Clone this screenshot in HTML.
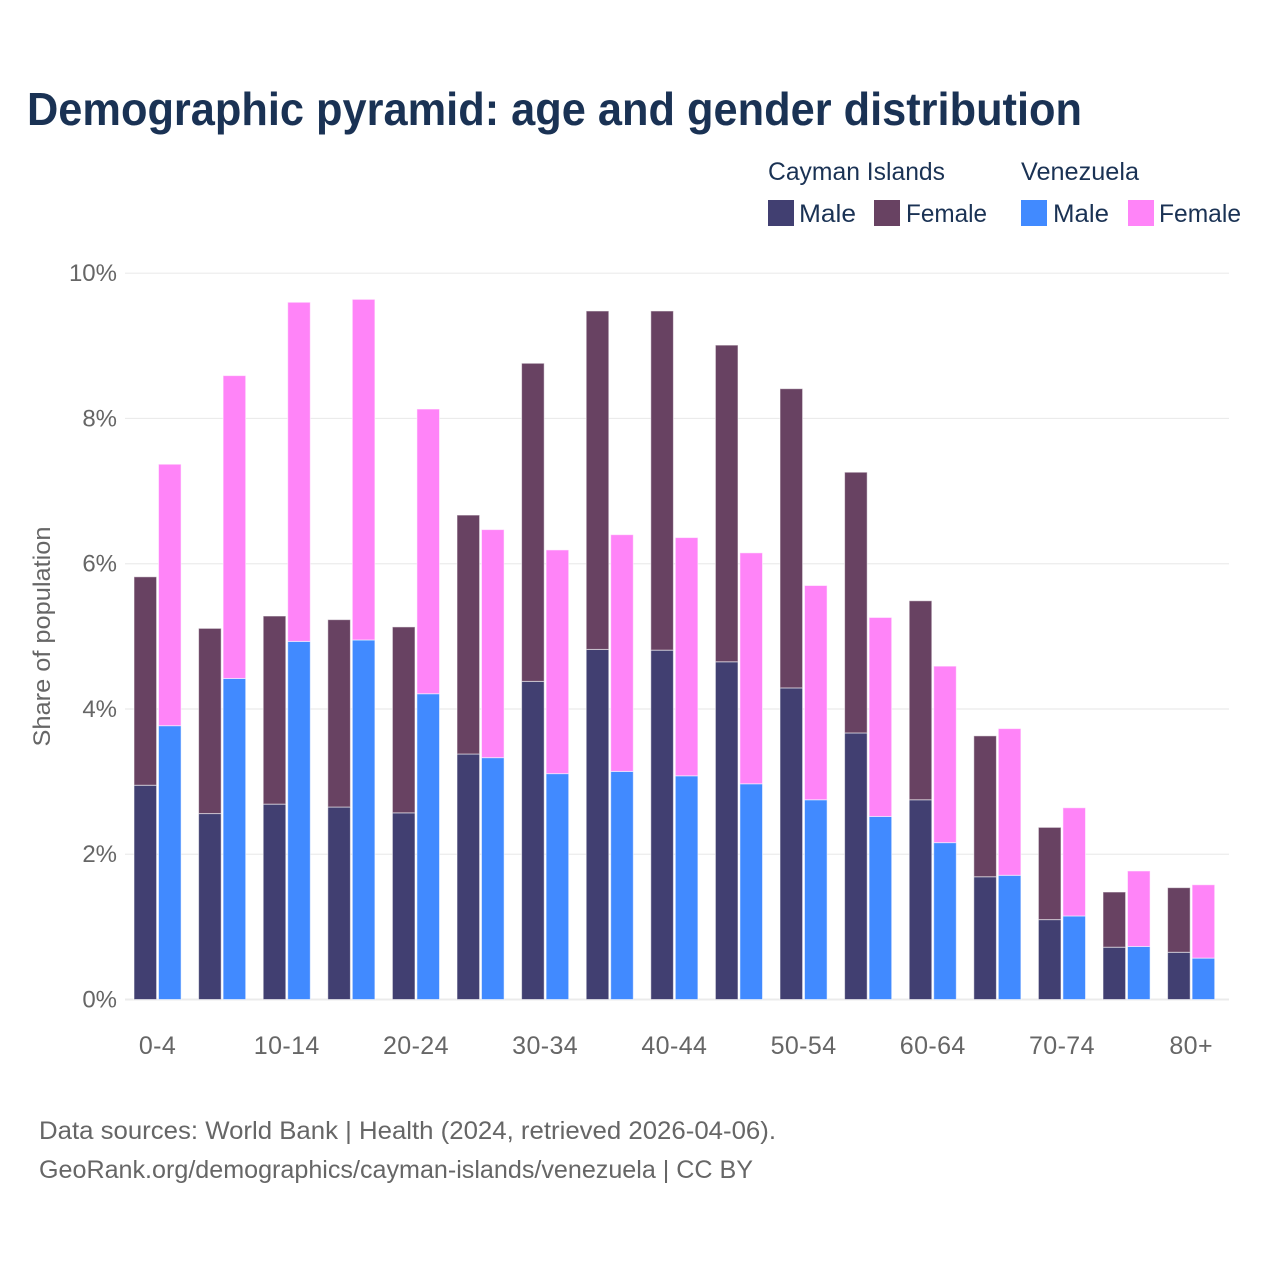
<!DOCTYPE html>
<html lang="en">
<head>
<meta charset="utf-8">
<title>Demographic pyramid</title>
<style>
html,body{margin:0;padding:0;background:#fff;}
svg{display:block;}
text{font-family:"Liberation Sans",sans-serif;}
</style>
</head>
<body>
<svg id="chart" xmlns="http://www.w3.org/2000/svg" width="1280" height="1280" viewBox="0 0 1280 1280">
  <rect width="1280" height="1280" fill="#fff"/>
  <text x="27" y="125" font-size="46" font-weight="700" fill="#1a3254" textLength="1055" lengthAdjust="spacingAndGlyphs">Demographic pyramid: age and gender distribution</text>

  <g font-size="25" fill="#1a3254">
    <text x="768" y="180" textLength="177" lengthAdjust="spacingAndGlyphs">Cayman Islands</text>
    <text x="1021" y="180" textLength="118" lengthAdjust="spacingAndGlyphs">Venezuela</text>
    <rect x="768" y="200" width="26" height="26" fill="#413f71"/>
    <text x="799" y="222" textLength="57" lengthAdjust="spacingAndGlyphs">Male</text>
    <rect x="874" y="200" width="26" height="26" fill="#684262"/>
    <text x="906" y="222" textLength="81" lengthAdjust="spacingAndGlyphs">Female</text>
    <rect x="1021" y="200" width="26" height="26" fill="#418aff"/>
    <text x="1053" y="222" textLength="56" lengthAdjust="spacingAndGlyphs">Male</text>
    <rect x="1128" y="200" width="26" height="26" fill="#ff84f8"/>
    <text x="1159" y="222" textLength="82" lengthAdjust="spacingAndGlyphs">Female</text>
  </g>

  <g id="grid"></g>
  <g id="bars"></g>
  <g id="yticks"></g>
  <g id="xticks"></g>

  <text transform="translate(50,636.5) rotate(-90)" text-anchor="middle" font-size="24" fill="#666" textLength="220" lengthAdjust="spacingAndGlyphs">Share of population</text>

  <text x="39" y="1139" font-size="25" fill="#666" textLength="737" lengthAdjust="spacingAndGlyphs">Data sources: World Bank | Health (2024, retrieved 2026-04-06).</text>
  <text x="39" y="1178" font-size="25" fill="#666" textLength="714" lengthAdjust="spacingAndGlyphs">GeoRank.org/demographics/cayman-islands/venezuela | CC BY</text>
</svg>
<script>
const ageGroups = ["0-4","5-9","10-14","15-19","20-24","25-29","30-34","35-39","40-44","45-49","50-54","55-59","60-64","65-69","70-74","75-79","80+"];
const caymanMale = [2.95,2.56,2.69,2.65,2.57,3.38,4.38,4.82,4.81,4.65,4.29,3.67,2.75,1.69,1.10,0.72,0.65];
const caymanFemale = [2.87,2.55,2.59,2.58,2.56,3.29,4.38,4.66,4.67,4.36,4.12,3.59,2.74,1.94,1.27,0.76,0.89];
const venezuelaMale = [3.77,4.42,4.93,4.95,4.21,3.33,3.11,3.14,3.08,2.97,2.75,2.52,2.16,1.71,1.15,0.73,0.57];
const venezuelaFemale = [3.60,4.17,4.67,4.69,3.92,3.14,3.08,3.26,3.28,3.18,2.95,2.74,2.43,2.02,1.49,1.04,1.01];
const yTickValues = [0,2,4,6,8,10];

const NS = "http://www.w3.org/2000/svg";
const plot = {left:125, right:1229, y0:999.5, y10:273.2, first:134, step:64.6, barW:22.6, gap:1.9};
const yScale = v => plot.y0 - (plot.y0 - plot.y10) * v / 10;
const xScale = i => plot.first + plot.step * i;

function make(tag, attrs, parent, text) {
  const el = document.createElementNS(NS, tag);
  for (const k in attrs) el.setAttribute(k, attrs[k]);
  if (text !== undefined) el.textContent = text;
  parent.appendChild(el);
  return el;
}

const gridG = document.getElementById("grid");
const yG = document.getElementById("yticks");
yTickValues.forEach(v => {
  const line = make("line", {x1:plot.left, x2:plot.right, y1:yScale(v), y2:yScale(v), stroke:"#ebebeb", "stroke-width":v === 0 ? 2 : 1.2}, gridG);
  
  
  const label = make("text", {x:117, y:yScale(v) + 8, "text-anchor":"end", "font-size":24, fill:"#666"}, yG, v + "%");
  
  
});

const xG = document.getElementById("xticks");
ageGroups.forEach((name, i) => {
  if (i % 2 !== 0) return;
  const label = make("text", {x:xScale(i) + plot.barW + plot.gap / 2, y:1054, "text-anchor":"middle", "font-size":25, "letter-spacing":0.4, fill:"#666"}, xG, name);
  
  
});

function stacked(parent, x, male, female, maleColor, femaleColor) {
  const top1 = yScale(male), top2 = yScale(male + female);
  const m = make("rect", {x:x, y:top1, width:plot.barW, height:plot.y0 - top1, fill:maleColor, stroke:"rgba(255,255,255,.55)", "stroke-width":1}, parent);
  
  
  const f = make("rect", {x:x, y:top2, width:plot.barW, height:top1 - top2, fill:femaleColor, stroke:"rgba(255,255,255,.55)", "stroke-width":1}, parent);
  
  
}

const barsG = document.getElementById("bars");
ageGroups.forEach((name, i) => {
  stacked(barsG, xScale(i), caymanMale[i], caymanFemale[i], "#413f71", "#684262");
  stacked(barsG, xScale(i) + plot.barW + plot.gap, venezuelaMale[i], venezuelaFemale[i], "#418aff", "#ff84f8");
});
</script>
</body>
</html>
